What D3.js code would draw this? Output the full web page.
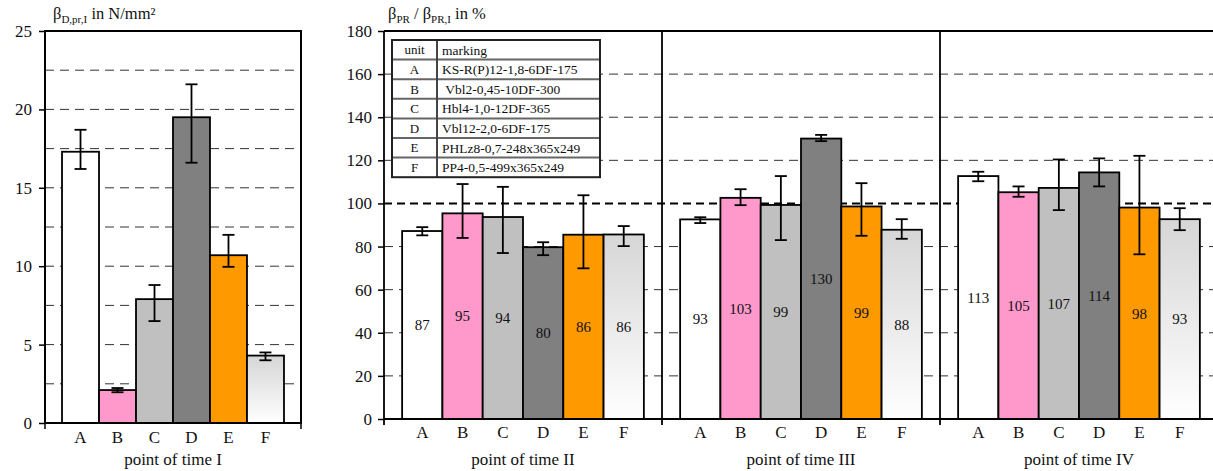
<!DOCTYPE html>
<html>
<head>
<meta charset="UTF-8">
<title>d3 strength bars</title>
<script src="https://cdn.jsdelivr.net/npm/d3@7"></script>
<style>
    body { margin: 0; background: #fff; }
    svg text { font-family: "Liberation Serif", "Times New Roman", serif; fill: #111; }
</style>
</head>
<body>
<svg id="chart" width="1213" height="471"></svg>
<script>
    // 数据
    var units = ["A", "B", "C", "D", "E", "F"];
    var markings = ["KS-R(P)12-1,8-6DF-175", " Vbl2-0,45-10DF-300", "Hbl4-1,0-12DF-365",
        "Vbl12-2,0-6DF-175", "PHLz8-0,7-248x365x249", "PP4-0,5-499x365x249"];
    var fills = ["#ffffff", "#ff99cc", "#c0c0c0", "#808080", "#ff9900", "url(#gradF)"];

    // point of time I, N/mm²
    var strengthI = [17.3, 2.1, 7.9, 19.5, 10.7, 4.3];
    var strengthILow = [16.2, 1.96, 6.5, 16.6, 9.96, 4.0];
    var strengthIHigh = [18.7, 2.23, 8.8, 21.6, 12.0, 4.5];

    // relative to point of time I, %
    var periods = ["II", "III", "IV"];
    var relII = [87.2, 95.4, 93.7, 79.7, 85.5, 85.6];
    var relIILow = [85.2, 84, 77, 76, 69.9, 80.2];
    var relIIHigh = [89, 109, 107.7, 82, 103.8, 89.5];
    var relIII = [92.6, 102.6, 99.3, 130.1, 98.6, 87.8];
    var relIIILow = [90.9, 99.2, 83, 128.9, 85, 83.6];
    var relIIIHigh = [93.6, 106.6, 112.7, 131.8, 109.4, 92.7];
    var relIV = [112.7, 105.2, 107.2, 114.4, 98.1, 92.7];
    var relIVLow = [110.3, 103.1, 96.9, 107.9, 76.4, 87.6];
    var relIVHigh = [114.7, 107.9, 120.4, 120.9, 122.1, 97.8];

    var leftTicks = [0, 5, 10, 15, 20, 25];
    var leftGrid = [2.5, 5, 7.5, 10, 12.5, 15, 17.5, 20, 22.5];
    var rightTicks = [0, 20, 40, 60, 80, 100, 120, 140, 160, 180];
    var rightGrid = [20, 40, 60, 80, 120, 140, 160];
    var refLine = 100;

    var serif = "'Liberation Serif', 'Times New Roman', serif";
    var svg = d3.select("#chart");

    // F 的渐变
    var grad = svg.append("defs").append("linearGradient")
        .attr("id", "gradF")
        .attr("x1", 0).attr("y1", 0).attr("x2", 0).attr("y2", 1);
    grad.append("stop").attr("offset", "0%").attr("stop-color", "#d6d6d6");
    grad.append("stop").attr("offset", "100%").attr("stop-color", "#ffffff");

    // 画柱子 + 误差线
    function drawBars(g, x, y, values, lows, highs, withLabels) {
        var rows = units.map(function (u, i) {
            return { u: u, v: values[i], lo: lows[i], hi: highs[i], i: i };
        });

        g.selectAll("rect.bar")
            .data(rows)
            .enter().append("rect")
            .attr("class", "bar")
            .attr("x", function (d) { return x(d.u); })
            .attr("width", x.bandwidth())
            .attr("y", function (d) { return y(d.v); })
            .attr("height", function (d) { return y(0) - y(d.v); })
            .attr("fill", function (d) { return fills[d.i]; })
            .attr("stroke", "#000")
            .attr("stroke-width", 1.8);

        var eb = g.selectAll("g.err")
            .data(rows)
            .enter().append("g")
            .attr("class", "err")
            .attr("stroke", "#000")
            .attr("stroke-width", 1.8);
        var cx = function (d) { return x(d.u) + x.bandwidth() / 2; };
        eb.append("line")
            .attr("x1", cx).attr("x2", cx)
            .attr("y1", function (d) { return y(d.lo); })
            .attr("y2", function (d) { return y(d.hi); });
        eb.append("line")
            .attr("x1", function (d) { return cx(d) - 6; })
            .attr("x2", function (d) { return cx(d) + 6; })
            .attr("y1", function (d) { return y(d.hi); })
            .attr("y2", function (d) { return y(d.hi); });
        eb.append("line")
            .attr("x1", function (d) { return cx(d) - 6; })
            .attr("x2", function (d) { return cx(d) + 6; })
            .attr("y1", function (d) { return y(d.lo); })
            .attr("y2", function (d) { return y(d.lo); });

        if (withLabels) {
            g.selectAll("text.val")
                .data(rows)
                .enter().append("text")
                .attr("class", "val")
                .attr("x", cx)
                .attr("y", function (d) { return y(d.v / 2); })
                .attr("dy", "0.35em")
                .attr("text-anchor", "middle")
                .attr("font-size", "15px")
                .text(function (d) { return Math.round(d.v); });
        }
    }

    function gridLines(g, y, vals, x0, x1) {
        g.selectAll("line.grid")
            .data(vals)
            .enter().append("line")
            .attr("class", "grid")
            .attr("x1", x0).attr("x2", x1)
            .attr("y1", function (d) { return y(d); })
            .attr("y2", function (d) { return y(d); })
            .attr("stroke", "#333")
            .attr("stroke-width", 1)
            .attr("stroke-dasharray", "9,6");
    }

    function styleAxis(a) {
        a.select(".domain").remove();
        a.style("font-family", serif).style("font-size", "17px");
        a.selectAll(".tick line").attr("stroke", "#000").attr("stroke-width", 1.5);
        a.selectAll(".tick text")
            .style("font-family", serif).style("font-size", "17px").style("fill", "#111");
    }

    // ---------- 左图 ----------
    var L = { left: 45, right: 301, top: 31, bottom: 423 };
    var xL = d3.scaleBand().domain(units).range([L.left, L.right]).paddingInner(0).paddingOuter(0.46);
    var yL = d3.scaleLinear().domain([0, 25]).range([L.bottom, L.top]);

    var gL = svg.append("g");
    gridLines(gL, yL, leftGrid, L.left, L.right);
    drawBars(gL, xL, yL, strengthI, strengthILow, strengthIHigh, false);

    gL.append("rect")
        .attr("x", L.left).attr("y", L.top)
        .attr("width", L.right - L.left).attr("height", L.bottom - L.top)
        .attr("fill", "none").attr("stroke", "#000").attr("stroke-width", 2);
    [L.left, L.right].forEach(function (xx) {
        gL.append("line").attr("x1", xx).attr("x2", xx)
            .attr("y1", L.bottom).attr("y2", L.bottom + 6)
            .attr("stroke", "#000").attr("stroke-width", 1.5);
    });

    var ayL = gL.append("g").attr("transform", "translate(" + L.left + ",0)")
        .call(d3.axisLeft(yL).tickValues(leftTicks).tickSize(6).tickPadding(7));
    styleAxis(ayL);
    var axL = gL.append("g").attr("transform", "translate(0," + L.bottom + ")")
        .call(d3.axisBottom(xL).tickSize(0).tickPadding(8));
    styleAxis(axL);

    gL.append("text")
        .attr("x", (L.left + L.right) / 2).attr("y", 465)
        .attr("text-anchor", "middle").attr("font-size", "17px")
        .text("point of time I");

    var tL = gL.append("text").attr("x", 53).attr("y", 19).attr("font-size", "16.5px");
    tL.append("tspan").text("β");
    tL.append("tspan").attr("font-size", "11px").attr("dy", 4).text("D,pr,I");
    tL.append("tspan").attr("dy", -4).text(" in N/mm²");

    // ---------- 右图 ----------
    var R = { left: 384, right: 1213, top: 31, bottom: 419, group: 278 };
    var xG = d3.scaleBand().domain(periods).range([R.left, R.left + 3 * R.group]);
    var xR = d3.scaleBand().domain(units).range([0, R.group]).paddingInner(0).paddingOuter(0.45);
    var yR = d3.scaleLinear().domain([0, 180]).range([R.bottom, R.top]);

    var gR = svg.append("g");
    gridLines(gR, yR, rightGrid, R.left, R.right);
    gR.append("line")
        .attr("x1", R.left).attr("x2", R.right)
        .attr("y1", yR(refLine)).attr("y2", yR(refLine))
        .attr("stroke", "#000").attr("stroke-width", 2)
        .attr("stroke-dasharray", "8,5");

    var relVals = [relII, relIII, relIV];
    var relLows = [relIILow, relIIILow, relIVLow];
    var relHighs = [relIIHigh, relIIIHigh, relIVHigh];

    periods.forEach(function (p, k) {
        var g = gR.append("g").attr("transform", "translate(" + xG(p) + ",0)");
        drawBars(g, xR, yR, relVals[k], relLows[k], relHighs[k], true);

        var ax = g.append("g").attr("transform", "translate(0," + R.bottom + ")")
            .call(d3.axisBottom(xR).tickSize(0).tickPadding(7));
        styleAxis(ax);

        g.append("text")
            .attr("x", R.group / 2).attr("y", 465)
            .attr("text-anchor", "middle").attr("font-size", "17px")
            .text("point of time " + p);
    });

    // 外框
    gR.append("line").attr("x1", R.left).attr("x2", R.right)
        .attr("y1", R.top).attr("y2", R.top)
        .attr("stroke", "#000").attr("stroke-width", 2);
    gR.append("line").attr("x1", R.left).attr("x2", R.right)
        .attr("y1", R.bottom).attr("y2", R.bottom)
        .attr("stroke", "#000").attr("stroke-width", 2);
    periods.forEach(function (p) {
        gR.append("line").attr("x1", xG(p)).attr("x2", xG(p))
            .attr("y1", R.top).attr("y2", R.bottom + 6)
            .attr("stroke", "#000").attr("stroke-width", 1.8);
    });

    var ayR = gR.append("g").attr("transform", "translate(" + R.left + ",0)")
        .call(d3.axisLeft(yR).tickValues(rightTicks).tickSize(6).tickPadding(6));
    styleAxis(ayR);

    var tR = gR.append("text").attr("x", 388).attr("y", 19).attr("font-size", "16.5px");
    tR.append("tspan").text("β");
    tR.append("tspan").attr("font-size", "11px").attr("dy", 4).text("PR");
    tR.append("tspan").attr("dy", -4).text(" / β");
    tR.append("tspan").attr("font-size", "11px").attr("dy", 4).text("PR,I");
    tR.append("tspan").attr("dy", -4).text(" in %");

    // ---------- 图例表格 ----------
    var T = { x: 392, y: 40, w: 208, col: 45, rowH: 19.6 };
    var tableRows = [["unit", "marking"]].concat(units.map(function (u, i) { return [u, markings[i]]; }));
    var gT = svg.append("g");
    gT.append("rect")
        .attr("x", T.x).attr("y", T.y)
        .attr("width", T.w).attr("height", T.rowH * tableRows.length)
        .attr("fill", "#fff");
    tableRows.forEach(function (r, i) {
        var yy = T.y + i * T.rowH;
        if (i > 0) {
            gT.append("line").attr("x1", T.x).attr("x2", T.x + T.w)
                .attr("y1", yy).attr("y2", yy)
                .attr("stroke", "#666").attr("stroke-width", 2);
        }
        gT.append("text")
            .attr("x", T.x + T.col / 2).attr("y", yy + T.rowH / 2).attr("dy", "0.35em")
            .attr("text-anchor", "middle").attr("font-size", "13px").attr("fill", "#222")
            .text(r[0]);
        gT.append("text")
            .attr("x", T.x + T.col + 5).attr("y", yy + T.rowH / 2).attr("dy", "0.35em")
            .attr("font-size", "13.5px").attr("fill", "#222")
            .style("white-space", "pre")
            .text(r[1]);
    });
    gT.append("line").attr("x1", T.x + T.col).attr("x2", T.x + T.col)
        .attr("y1", T.y).attr("y2", T.y + T.rowH * tableRows.length)
        .attr("stroke", "#444").attr("stroke-width", 2);
    gT.append("rect")
        .attr("x", T.x).attr("y", T.y)
        .attr("width", T.w).attr("height", T.rowH * tableRows.length)
        .attr("fill", "none").attr("stroke", "#222").attr("stroke-width", 2);
</script>
</body>
</html>
